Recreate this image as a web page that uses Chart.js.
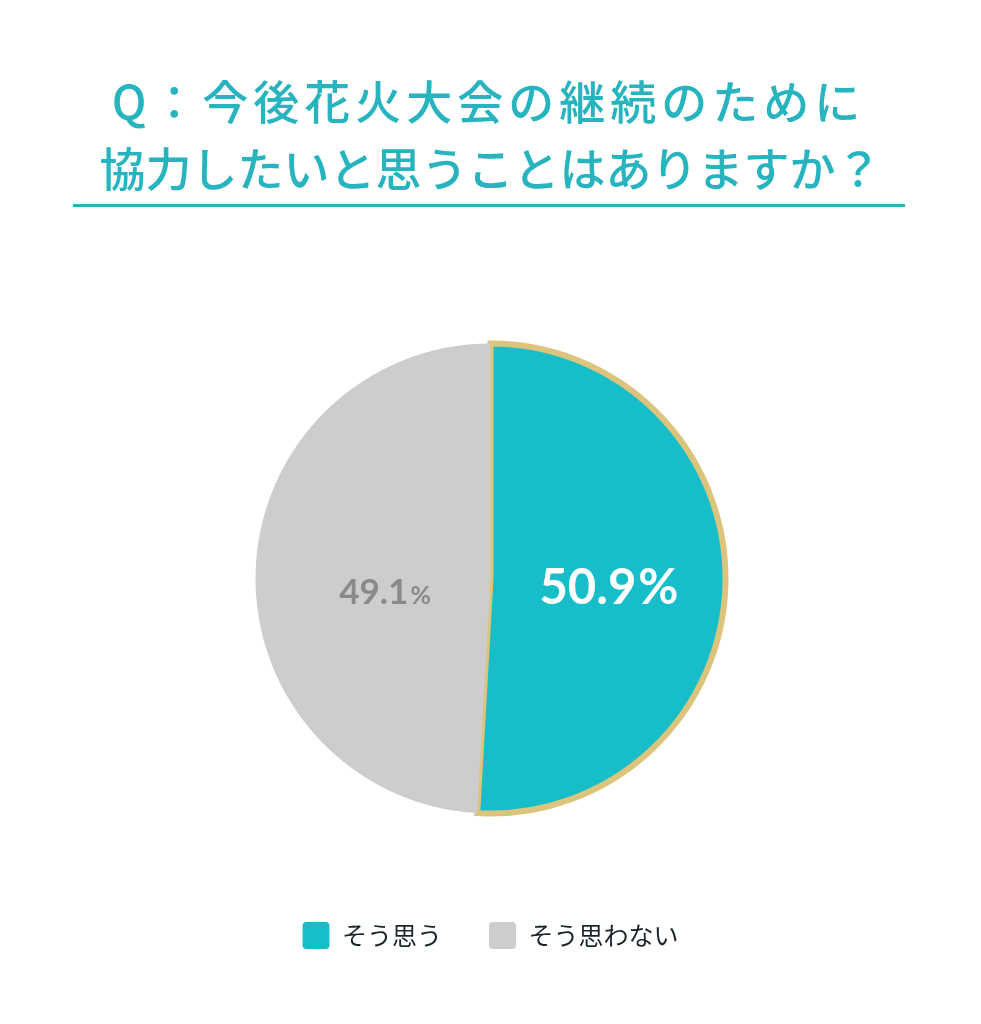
<!DOCTYPE html>
<html lang="ja">
<head>
<meta charset="utf-8">
<title>今後花火大会の継続のために協力したいと思うことはありますか?</title>
<script src="https://cdn.jsdelivr.net/npm/chart.js@4/dist/chart.umd.min.js"></script>
<style>
  html, body { margin: 0; padding: 0; background: #ffffff; }
  #page { position: relative; width: 981px; height: 1024px; overflow: hidden; }
  #chart { position: absolute; left: 0; top: 0; }
  #title {
    position: absolute; left: 0; top: 66px; width: 981px;
    text-align: center; color: #27b4bf;
    font-family: "Noto Sans CJK JP", sans-serif; font-size: 46px; font-weight: 500;
    line-height: 67px; z-index: 2;
  }
  #title .l1 { letter-spacing: 5px; margin-left: -4px; }
  #title .l2 { letter-spacing: 0px; }
  #rule { position: absolute; left: 73px; top: 204px; width: 832px; height: 3px; background: #29b3bd; }
</style>
</head>
<body>
<div id="page">
  <canvas id="chart" width="981" height="1024"></canvas>
  <div id="title"><div class="l1">Q：今後花火大会の継続のために</div><div class="l2">協力したいと思うことはありますか？</div></div>
  <div id="rule"></div>
</div>
<script>
// Data
const categories = ['そう思う', 'そう思わない'];
const shares = [50.9, 49.1];

// Style
const sliceColors = ['#17bec9', '#cdcdcd'];
const sliceBorders = ['#dcc47c', '#cdcdcd'];
const sliceBorderWidths = [6, 0];
const labelColors = ['#ffffff', '#8a8a8a'];
const numberSizes = [49, 35];
const percentSizes = [49, 25];
const labelDx = [1, 12];
const labelDy = [22, 29];

// draws the share on each slice
const sliceLabels = {
  id: 'sliceLabels',
  afterDatasetsDraw(chart) {
    const ctx = chart.ctx;
    const meta = chart.getDatasetMeta(0);
    meta.data.forEach(function (arc, i) {
      const pos = arc.tooltipPosition();
      const num = shares[i].toFixed(1);
      ctx.save();
      ctx.fillStyle = labelColors[i];
      ctx.textBaseline = 'alphabetic';
      ctx.textAlign = 'left';
      ctx.font = 'bold ' + numberSizes[i] + 'px Lato';
      const w1 = ctx.measureText(num).width;
      ctx.font = 'bold ' + percentSizes[i] + 'px Lato';
      const w2 = ctx.measureText('%').width;
      const x = pos.x + labelDx[i] - (w1 + w2 + 2) / 2;
      const y = pos.y + labelDy[i];
      ctx.font = 'bold ' + numberSizes[i] + 'px Lato';
      ctx.fillText(num, x, y);
      ctx.font = 'bold ' + percentSizes[i] + 'px Lato';
      ctx.fillText('%', x + w1 + 2, y);
      ctx.restore();
    });
  }
};

const ctx = document.getElementById('chart').getContext('2d');
const pieChart = new Chart(ctx, {
  type: 'pie',
  data: {
    labels: categories,
    datasets: [{
      data: shares,
      backgroundColor: sliceColors,
      borderColor: sliceBorders,
      borderWidth: sliceBorderWidths,
      borderJoinStyle: 'miter'
    }]
  },
  options: {
    responsive: false,
    animation: false,
    radius: 235,
    layout: { padding: { top: 282, bottom: 65 } },
    plugins: {
      tooltip: { enabled: false },
      legend: {
        position: 'bottom',
        labels: {
          boxWidth: 27,
          boxHeight: 27,
          useBorderRadius: true,
          borderRadius: 4,
          padding: 47,
          color: '#1a252b',
          font: { family: '"Noto Sans CJK JP"', size: 25 },
          generateLabels(chart) {
            const items = Chart.overrides.pie.plugins.legend.labels.generateLabels(chart);
            return items.map(function (item) {
              item.lineWidth = 0;
              item.strokeStyle = 'rgba(0,0,0,0)';
              return item;
            });
          }
        }
      }
    }
  },
  plugins: [sliceLabels]
});
</script>
</body>
</html>
